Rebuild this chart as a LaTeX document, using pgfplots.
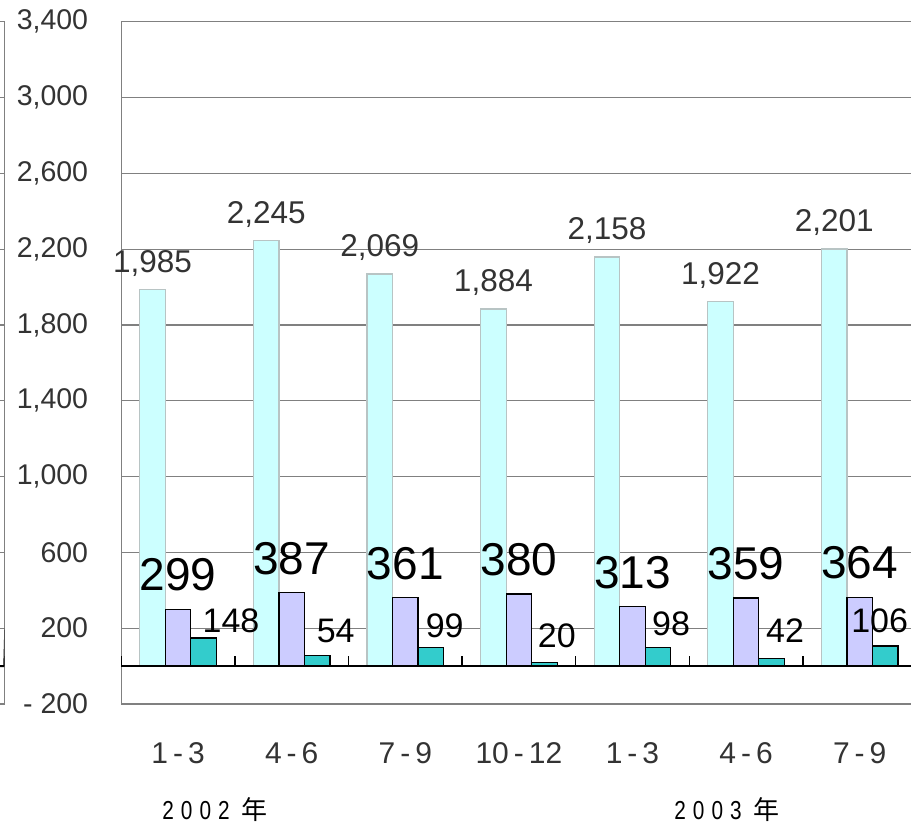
\documentclass[border=0pt]{standalone}
\usepackage{pgfplots}
\pgfplotsset{compat=1.18}
\usepackage{pgfplotstable}
\usepackage{graphicx}
\usepackage{fontspec}
\setmainfont{Liberation Sans}
\newfontfamily\cjk{Noto Sans CJK JP}
\definecolor{gridgray}{HTML}{808080}
\definecolor{txtgray}{HTML}{333333}
\definecolor{cyanfill}{HTML}{CCFFFF}
\definecolor{cyandraw}{HTML}{B8C4C4}
\definecolor{purplefill}{HTML}{CCCCFF}
\definecolor{tealfill}{HTML}{33CCCC}

\pgfplotstableread{
x cyan clab purple teal
0 1985 1,985 299 148
1 2245 2,245 387 54
2 2069 2,069 361 99
3 1884 1,884 380 20
4 2158 2,158 313 98
5 1922 1,922 359 42
6 2201 2,201 364 106
}\data

\pgfplotstableread{
x y lab
0.466 179 148
1.387 127 54
2.347 153 99
3.334 100 20
4.339 164 98
5.343 127 42
6.176 179 106
}\teallab

\newcommand{\nd}[1]{\scalebox{0.8}[1]{#1}}

\begin{document}
\begin{tikzpicture}
\pgfplotsset{
  common/.style={
    scale only axis, height=682.3bp,
    ymin=-200, ymax=3400, ytick={-200,200,...,3400},
    ymajorgrids, grid style={gridgray, line width=1.2bp},
    axis line style={gridgray, line width=1.2bp},
    major tick length=0pt,
  }
}
% cut-off neighbouring chart at the left edge
\begin{axis}[common, at={(4.3bp,120bp)}, anchor=south east, width=200bp,
  xmin=0, xmax=1, xtick=\empty, yticklabels={}]
\addplot[draw=none] coordinates {(0.5,0)};
\draw[black, line width=2bp] (axis cs:0,0) -- (axis cs:1,0) -- ++(1bp,0);
\draw[black, line width=1.3bp] (axis cs:1,0) -- ++(0bp,10bp);
\end{axis}

\begin{axis}[common, at={(121.3bp,120bp)}, anchor=south west, width=795.2bp,
  clip=false,
  xmin=-0.5, xmax=6.5, xtick={0,...,6},
  xticklabels={1\,-\,3, 4\,-\,6, 7\,-\,9, 10\,-\,12, 1\,-\,3, 4\,-\,6, 7\,-\,9},
  yticklabels={- 200, 200, 600, {1,000}, {1,400}, {1,800}, {2,200}, {2,600}, {3,000}, {3,400}},
  every y tick label/.style={font=\fontsize{28.5bp}{30bp}\selectfont, text=txtgray, anchor=east, inner sep=0pt, xshift=-33bp},
  every x tick label/.style={font=\fontsize{30bp}{32bp}\selectfont, text=txtgray, anchor=base, inner sep=0pt, yshift=-59bp},
]
\addplot[ybar, bar width=0.2243, bar shift=-0.2243, fill=cyanfill, draw=cyandraw, line width=1.2bp,
  nodes near coords, point meta=explicit symbolic,
  every node near coord/.append style={anchor=base, inner sep=0pt, xshift=-25.5bp, yshift=17.5bp, text=txtgray, font=\fontsize{31.5bp}{33bp}\selectfont}]
  table[x=x, y=cyan, meta=clab] {\data};
\addplot[ybar, bar width=0.2243, bar shift=0, fill=purplefill, draw=black, line width=1.2bp,
  nodes near coords, point meta=explicit symbolic,
  every node near coord/.append style={anchor=base, inner sep=0pt, yshift=18.5bp, text=black, font=\fontsize{46bp}{48bp}\selectfont}]
  table[x=x, y=purple, meta=purple] {\data};
\addplot[ybar, bar width=0.2243, bar shift=0.2243, fill=tealfill, draw=black, line width=1.2bp]
  table[x=x, y=teal] {\data};
\addplot[draw=none, mark=none, nodes near coords, point meta=explicit symbolic,
  every node near coord/.append style={anchor=base, inner sep=0pt, text=black, font=\fontsize{34bp}{36bp}\selectfont}]
  table[x=x, y=y, meta=lab] {\teallab};
\draw[black, line width=2bp] (axis cs:-0.5,0) -- (axis cs:6.5,0);
\pgfplotsinvokeforeach{-0.5,0.5,1.5,2.5,3.5,4.5,5.5,6.5}{
  \draw[black, line width=1.3bp] (axis cs:#1,0) -- ++(0bp,10bp);
}
\end{axis}

\node[anchor=base, inner sep=0pt, font=\fontsize{26bp}{28bp}\selectfont] at (215bp,5bp)
  {\nd{2}\hspace{7bp}\nd{0}\hspace{7bp}\nd{0}\hspace{7bp}\nd{2}\hspace{12bp}{\cjk 年}};
\node[anchor=base, inner sep=0pt, font=\fontsize{26bp}{28bp}\selectfont] at (727bp,5bp)
  {\nd{2}\hspace{7bp}\nd{0}\hspace{7bp}\nd{0}\hspace{7bp}\nd{3}\hspace{12bp}{\cjk 年}};

\pgfresetboundingbox
\useasboundingbox (0bp,0bp) rectangle (911bp,824bp);
\end{tikzpicture}
\end{document}
